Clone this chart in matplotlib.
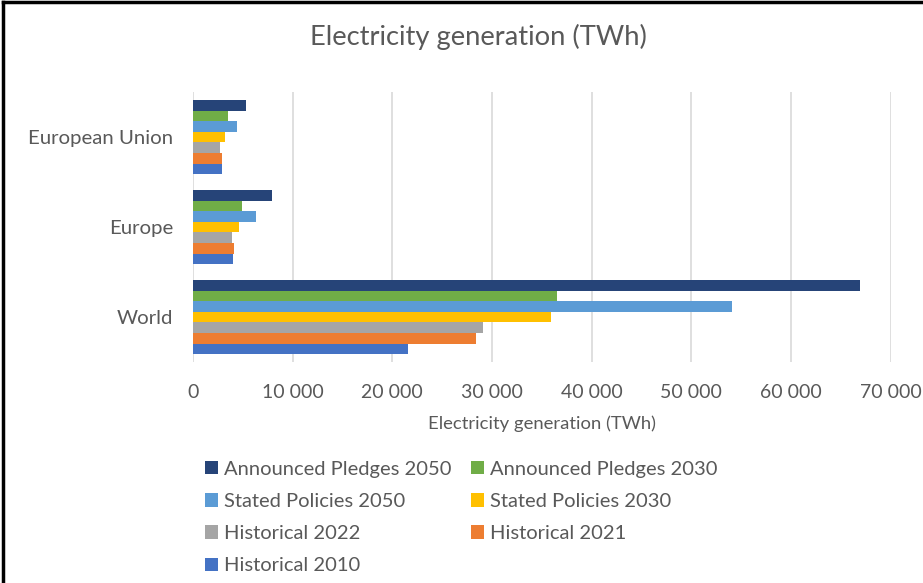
import matplotlib.pyplot as plt
from matplotlib.ticker import FuncFormatter
import numpy as np

plt.rcParams['font.family'] = ['Lato', 'DejaVu Sans']

categories = ["World", "Europe", "European Union"]
series = ["Historical 2010", "Historical 2021", "Historical 2022",
          "Stated Policies 2030", "Stated Policies 2050",
          "Announced Pledges 2030", "Announced Pledges 2050"]
colors = ["#4472C4", "#ED7D31", "#A5A5A5", "#FFC000", "#5B9BD5", "#70AD47", "#264478"]

# values per series: [World, Europe, European Union]
hist_2010 = [21550, 4060, 2880]
hist_2021 = [28350, 4080, 2880]
hist_2022 = [29100, 3940, 2740]
sp_2030 = [35950, 4650, 3210]
sp_2050 = [54100, 6320, 4410]
ap_2030 = [36550, 4880, 3480]
ap_2050 = [66900, 7890, 5350]
values = [hist_2010, hist_2021, hist_2022, sp_2030, sp_2050, ap_2030, ap_2050]

text_col = "#595959"

fig = plt.figure(figsize=(9.23, 5.83), dpi=100)
ax = fig.add_axes([0.209, 0.379, 0.756, 0.463])

y = np.arange(len(categories))
h = 0.118
handles = {}
for i, (name, vals) in enumerate(zip(series, values)):
    off = (i - 3) * h
    b = ax.barh(y + off, vals, height=h, color=colors[i], label=name, zorder=3)
    handles[name] = b

ax.set_ylim(-0.5, 2.5)
ax.set_xlim(0, 70000)
ax.set_xticks(np.arange(0, 70001, 10000))
ax.xaxis.set_major_formatter(FuncFormatter(lambda v, p: f"{int(v):,}".replace(",", " ")))
ax.set_yticks(y)
ax.set_yticklabels(categories, fontsize=14.7)
ax.grid(axis="x", color="#D9D9D9", lw=1.2, zorder=0)
for s in ax.spines.values():
    s.set_visible(False)
ax.tick_params(axis="both", length=0, colors=text_col)
ax.tick_params(axis="x", labelsize=14, pad=16)
ax.tick_params(axis="y", pad=14)
ax.set_xlabel("Electricity generation (TWh)", color=text_col, fontsize=13.3, labelpad=10)

fig.text(0.518, 0.937, "Electricity generation (TWh)", ha="center", va="center",
         fontsize=19.7, color=text_col)

order = ["Announced Pledges 2050", "Stated Policies 2050", "Historical 2022", "Historical 2010",
         "Announced Pledges 2030", "Stated Policies 2030", "Historical 2021"]
fig.legend([handles[n] for n in order], order, ncol=2, loc="upper left",
           bbox_to_anchor=(0.222, 0.21), bbox_transform=fig.transFigure,
           frameon=False, fontsize=14.5, labelcolor=text_col,
           handlelength=0.65, handleheight=0.65, handletextpad=0.3,
           columnspacing=0.95, labelspacing=0.76, borderpad=0, borderaxespad=0)

# outer border (left and top)
fig.add_artist(plt.Line2D([0.003, 0.003], [0, 0.997], color="black", lw=2.5, transform=fig.transFigure))
fig.add_artist(plt.Line2D([0.003, 1], [0.997, 0.997], color="black", lw=2.5, transform=fig.transFigure))

fig.savefig("out.png", dpi=100)
